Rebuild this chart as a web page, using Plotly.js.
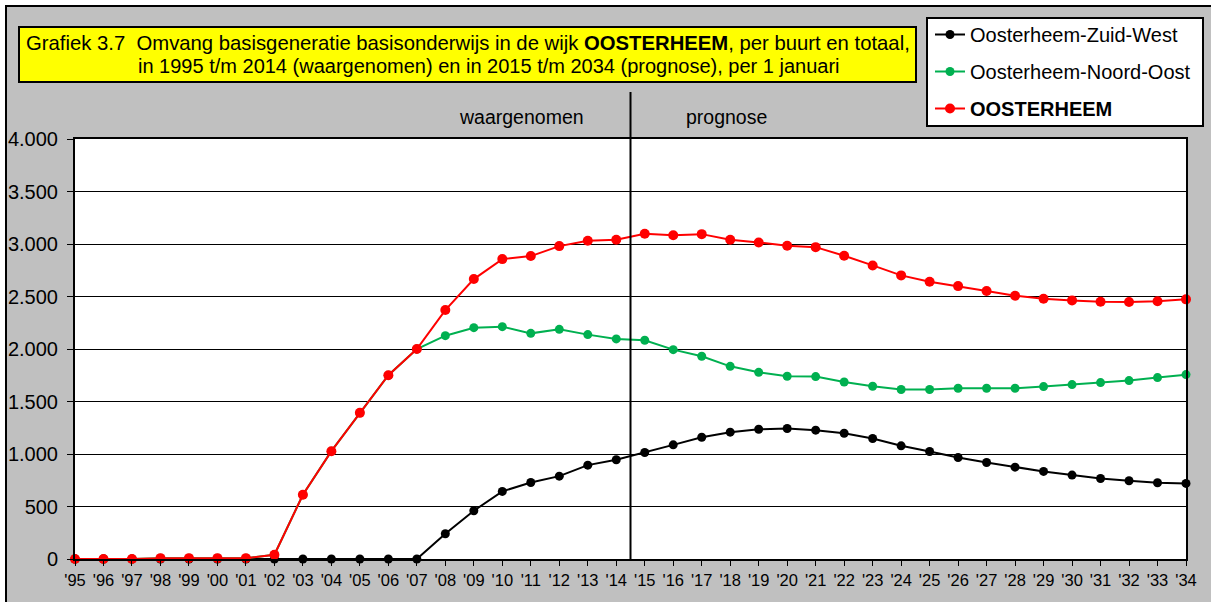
<!DOCTYPE html>
<html>
<head>
<meta charset="utf-8">
<script src="https://cdn.plot.ly/plotly-3.0.1.min.js"></script>
<style>html,body{margin:0;padding:0;background:#fff;}#chart{width:1211px;height:602px;}</style>
</head>
<body>
<div id="chart"></div>
<script>
var years = [1995,1996,1997,1998,1999,2000,2001,2002,2003,2004,2005,2006,2007,2008,2009,2010,2011,2012,2013,2014,
             2015,2016,2017,2018,2019,2020,2021,2022,2023,2024,2025,2026,2027,2028,2029,2030,2031,2032,2033,2034];
var yearLabels = ["'95","'96","'97","'98","'99","'00","'01","'02","'03","'04","'05","'06","'07","'08","'09","'10","'11","'12","'13","'14",
                  "'15","'16","'17","'18","'19","'20","'21","'22","'23","'24","'25","'26","'27","'28","'29","'30","'31","'32","'33","'34"];
var zuidWest = [0,0,0,0,0,0,0,0,0,0,0,0,0,241,460,644,729,789,894,945,
                1014,1087,1160,1208,1236,1243,1227,1198,1148,1078,1024,967,919,875,834,799,767,745,726,720];
var noordOost = [0,0,0,8,8,8,8,40,612,1027,1392,1750,2000,2127,2203,2213,2149,2187,2137,2096,
                 2083,1994,1931,1835,1778,1740,1737,1686,1645,1614,1614,1626,1626,1626,1642,1661,1680,1699,1728,1756];
var totaal = [0,0,0,8,8,8,8,40,612,1027,1392,1750,2000,2371,2666,2856,2885,2980,3031,3040,
              3097,3084,3094,3040,3015,2983,2970,2888,2796,2701,2641,2599,2552,2507,2479,2463,2450,2447,2454,2473];
var seriesNames = ["Oosterheem-Zuid-West","Oosterheem-Noord-Oost","<b>OOSTERHEEM</b>"];
var titleLine1 = "Grafiek 3.7  Omvang basisgeneratie basisonderwijs in de wijk <b>OOSTERHEEM</b>, per buurt en totaal,";
var titleLine2 = "in 1995 t/m 2014 (waargenomen) en in 2015 t/m 2034 (prognose), per 1 januari";
var yTicks = [0,500,1000,1500,2000,2500,3000,3500,4000];

var FONT = "Liberation Sans, Arial, sans-serif";
// pixel -> paper helpers (plot area: x 75..1186, y 139..559)
var L=75, R=1186, T=139, B=559;
function px(x){return (x-L)/(R-L);}
function py(y){return (B-y)/(B-T);}

function mk(name, y, color, size, group){
  return {x: years, y: y, name: name, type:'scatter', mode:'lines+markers',
    line:{color:color,width:2}, marker:{color:color,size:size}, cliponaxis:false,
    legendgroup: group, hoverinfo:'skip'};
}
var data = [
  mk(seriesNames[0], zuidWest, '#000000', 9, 'a'),
  mk(seriesNames[1], noordOost, '#00B050', 9, 'b'),
  mk(seriesNames[2], totaal, '#FF0000', 10, 'c')
];

var layout = {
  width:1211, height:602,
  margin:{l:L, r:1211-R, t:T, b:602-B, pad:0},
  paper_bgcolor:'#ffffff', plot_bgcolor:'rgba(0,0,0,0)',
  separators:',.',
  font:{family:FONT, color:'#000'},
  showlegend:true,
  legend:{x:px(930), y:py(15), xanchor:'left', yanchor:'top', bgcolor:'rgba(0,0,0,0)', borderwidth:0,
    font:{family:FONT,size:20,color:'#000'}, traceorder:'grouped', tracegroupgap:8, itemwidth:30},
  xaxis:{range:[1995,2034], tickmode:'array', tickvals:years, ticktext:yearLabels, tickangle:0,
    ticks:'outside', ticklen:5, tickcolor:'#000', tickwidth:1, showgrid:false, zeroline:false,
    showline:true, mirror:true, linecolor:'#000', linewidth:2,
    tickfont:{family:FONT,size:16.5,color:'#000'}, fixedrange:true},
  yaxis:{range:[0,4000], tickmode:'array', tickvals:yTicks, tickformat:',d',
    ticks:'outside', ticklen:6, tickcolor:'#000', tickwidth:1, ticklabelstandoff:5,
    showgrid:true, gridcolor:'#000', gridwidth:1, zeroline:false,
    showline:true, mirror:true, linecolor:'#000', linewidth:2,
    tickfont:{family:FONT,size:20,color:'#000'}, fixedrange:true},
  shapes:[
    {type:'rect', xref:'paper', yref:'paper', x0:px(6), x1:px(1260), y0:py(640), y1:py(6), layer:'below',
      fillcolor:'#C0C0C0', line:{color:'#000',width:2}},
    {type:'rect', xref:'paper', yref:'paper', x0:0, x1:1, y0:0, y1:1, layer:'below',
      fillcolor:'#ffffff', line:{width:0}},
    {type:'rect', xref:'paper', yref:'paper', x0:px(19), x1:px(916), y0:py(82), y1:py(27), layer:'below',
      fillcolor:'#FFFF00', line:{color:'#000',width:2}},
    {type:'rect', xref:'paper', yref:'paper', x0:px(927), x1:px(1203), y0:py(126), y1:py(18), layer:'below',
      fillcolor:'#ffffff', line:{color:'#000',width:2}},
    {type:'line', xref:'x', yref:'paper', x0:2014.5, x1:2014.5, y0:0, y1:py(92),
      line:{color:'#000',width:2}}
  ],
  annotations:[
    {xref:'paper', yref:'paper', x:px(24), y:py(43), xanchor:'left', yanchor:'middle', showarrow:false,
      text:titleLine1, font:{family:FONT,size:20.3,color:'#000'}},
    {xref:'paper', yref:'paper', x:px(136), y:py(66), xanchor:'left', yanchor:'middle', showarrow:false,
      text:titleLine2, font:{family:FONT,size:20,color:'#000'}},
    {xref:'x', yref:'paper', x:2010.68, y:py(117), xanchor:'center', yanchor:'middle', showarrow:false,
      text:'waargenomen', font:{family:FONT,size:19.5,color:'#000'}},
    {xref:'x', yref:'paper', x:2017.87, y:py(117), xanchor:'center', yanchor:'middle', showarrow:false,
      text:'prognose', font:{family:FONT,size:19.5,color:'#000'}}
  ]
};
Plotly.newPlot('chart', data, layout, {displayModeBar:false, staticPlot:true});
</script>
</body>
</html>
